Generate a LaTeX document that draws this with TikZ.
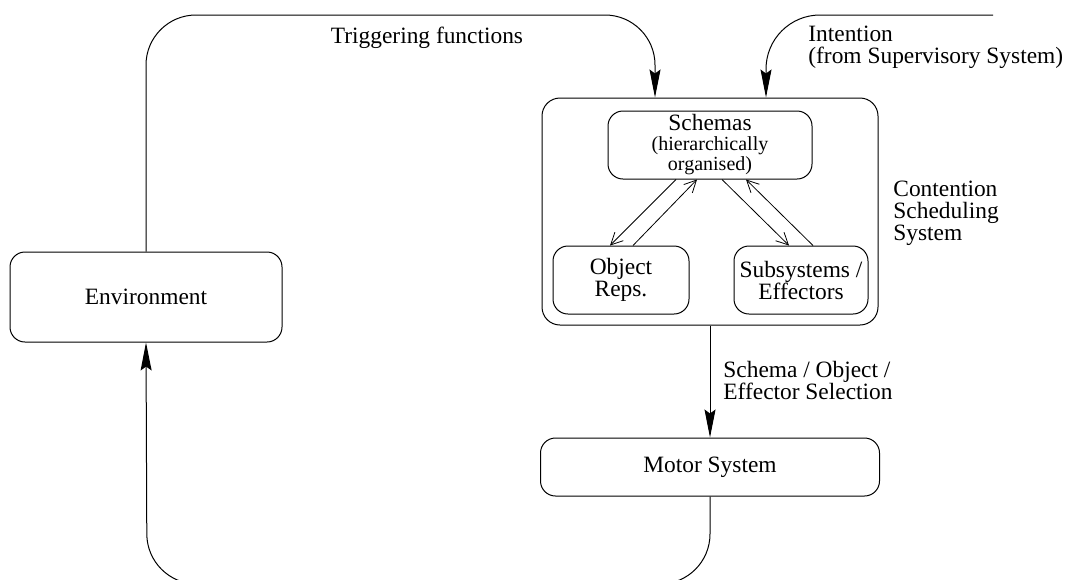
\documentclass[tikz,border=0pt]{standalone}
\usepackage{fontspec}
\setmainfont{Liberation Serif}
\usetikzlibrary{arrows.meta,positioning,calc}
\newcommand\mainSize{\fontsize{11.7pt}{11pt}\selectfont}
\newcommand\smallNote[1]{{\fontsize{10pt}{10pt}\selectfont #1}}
\tikzset{
  box-style/.style = {
    rectangle, rounded corners=7.5pt, draw, line width=0.5pt,
    inner sep=0pt, align=center
  },
  outer-style/.style = {
    box-style, rounded corners=9pt
  },
  label-style/.style = {
    inner sep=0pt, align=left, anchor=base west
  },
  flow-style/.style = {
    draw, line width=0.5pt,
    -{Stealth[length=14pt,width=5.5pt,inset=2pt]}
  },
  link-style/.style = {
    draw, line width=0.4pt,
    -{Straight Barb[length=6pt,width=6pt]}
  }
}
\begin{document}
\begin{tikzpicture}[x=0.5pt, y=-0.5pt, font=\mainSize]
  \useasboundingbox (0,0) rectangle (1065,579);

  \node[box-style, minimum width=136pt, minimum height=45pt] (env) at (146,297) {Environment};
  \node[outer-style, minimum width=168pt, minimum height=113.5pt] (css) at (710,211.5) {};
  \node[box-style, minimum width=102pt, minimum height=34pt, below=6.5pt of css.north,
        font=\fontsize{11.7pt}{10pt}\selectfont] (schemas)
    {Schemas\\\smallNote{(hierarchically}\\\smallNote{organised)}};
  \node[box-style, minimum width=68pt, minimum height=34pt] (objrep) at (621,280) {Object\\Reps.};
  \node[box-style, minimum width=67pt, minimum height=34pt] (subsys) at (801,280) {Subsystems /\\Effectors};
  \node[box-style, minimum width=169.5pt, minimum height=29pt, below=56pt of css] (motor) {Motor System};

  \coordinate (trig top) at (655,15);
  \coordinate (intent start) at (993,15);
  \coordinate (loop bottom) at (147,584);

  % labels (base = last line)
  \node[label-style, anchor=base] (trig label) at (427,43) {Triggering functions};
  \node[label-style] (intent label) at (808,63) {Intention\\(from Supervisory System)};
  \node[label-style] (css label) at (893,240) {Contention\\Scheduling\\System};
  \node[label-style] (select label) at (723,399) {Schema / Object /\\Effector Selection};

  % loop round the environment
  \draw[flow-style] (env.north) [rounded corners=25pt] |- (trig top)
    [rounded corners=30pt] -- ([xshift=-27.5pt]css.north);
  \draw[flow-style, rounded corners=27pt] (intent start) -| ([xshift=28pt]css.north);
  \draw[flow-style] (css.south) -- (motor.north);
  \draw[flow-style, rounded corners=25pt] (motor.south) |- (loop bottom) -- (env.south);

  % links inside the scheduling system
  \draw[link-style] ([xshift=-17pt]schemas.south) -- ([xshift=-5.5pt]objrep.north);
  \draw[link-style] ([xshift=6pt]objrep.north) -- ([xshift=-6.5pt]schemas.south);
  \draw[link-style] ([xshift=6pt]schemas.south) -- ([xshift=-6pt]subsys.north);
  \draw[link-style] ([xshift=6pt]subsys.north) -- ([xshift=18pt]schemas.south);
\end{tikzpicture}
\end{document}
